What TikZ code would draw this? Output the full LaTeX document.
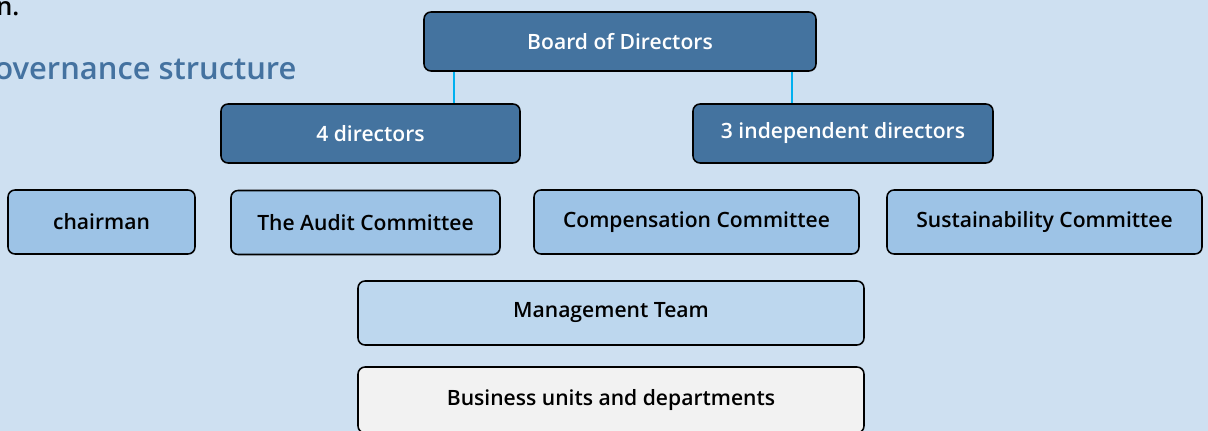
\documentclass[tikz,border=0pt]{standalone}
\usepackage{fontspec}
\setmainfont{Open Sans}
\IfFontExistsTF{Open Sans Semibold}
	{\newfontfamily\semib{Open Sans Semibold}}
	{\IfFontExistsTF{Fira Sans SemiBold}
		{\newfontfamily\semib{Fira Sans SemiBold}}
		{\newfontfamily\semib{Open Sans}[FakeBold=2]}}
\usetikzlibrary{positioning}
\definecolor{pagebg}{RGB}{206,224,241}
\definecolor{boarddark}{RGB}{68,115,159}
\definecolor{commlight}{RGB}{157,195,230}
\definecolor{mgmtlight}{RGB}{189,215,238}
\definecolor{unitgrey}{RGB}{242,242,242}
\definecolor{linkcyan}{RGB}{0,176,240}
\definecolor{titleblue}{RGB}{68,114,160}

\begin{document}
\begin{tikzpicture}[x=0.025cm, y=-0.025cm,
	box/.style={draw=black, line width=1.1pt, rounded corners=5pt, inner sep=0pt,
		font=\semib\fontsize{15}{17}\selectfont},
	darkbox/.style={box, fill=boarddark, text=white},
	commbox/.style={box, fill=commlight, text=black},
	link/.style={draw=linkcyan, line width=1pt}]
	%%%%% PAGE %%%%%
	\fill[pagebg] (0, 0) rectangle (1208, 431);
	\useasboundingbox (0, 0) rectangle (1208, 431);
	
	\node[anchor=base west, inner sep=0pt, font=\semib\fontsize{18}{20}\selectfont] (prev) at (-4, 16) {n.};
	\node[anchor=base west, inner sep=0pt, text=titleblue, font=\semib\fontsize{22}{25}\selectfont] (title) at (-6, 80) {overnance structure};
	
	%%%%% BOARD %%%%%
	\node[darkbox, minimum width=392*0.025cm, minimum height=59*0.025cm] (board) at (620, 41.5) {Board of Directors};
	\node[darkbox, minimum width=299*0.025cm, minimum height=59*0.025cm] (dirs) at (370.5, 133.5) {4 directors};
	\node[darkbox, minimum width=300*0.025cm, minimum height=59*0.025cm] (indep) at (843, 133.5) {3 independent directors};
	
	\coordinate (tapleft) at (454, 0);
	\coordinate (tapright) at (792, 0);
	\draw[link] (board.south -| tapleft) -- (dirs.north -| tapleft);
	\draw[link] (board.south -| tapright) -- (indep.north -| tapright);
	
	%%%%% COMMITTEES %%%%%
	\node[commbox, minimum width=187*0.025cm, minimum height=64*0.025cm] (chair) at (101.5, 222) {chairman};
	\node[commbox, minimum width=269*0.025cm, minimum height=64*0.025cm] (audit) at (365.5, 222.5) {The Audit Committee};
	\node[commbox, minimum width=325*0.025cm, minimum height=64*0.025cm] (comp) at (696.5, 222) {Compensation Committee};
	\node[commbox, minimum width=315*0.025cm, minimum height=64*0.025cm] (sust) at (1044.5, 222) {Sustainability Committee};
	
	%%%%% MANAGEMENT %%%%%
	\node[box, fill=mgmtlight, minimum width=506*0.025cm, minimum height=64*0.025cm] (mgmt) at (611, 313) {Management Team};
	\node[box, fill=unitgrey, minimum width=506*0.025cm, minimum height=66*0.025cm] (units) at (611, 400) {Business units and departments};
\end{tikzpicture}
\end{document}
